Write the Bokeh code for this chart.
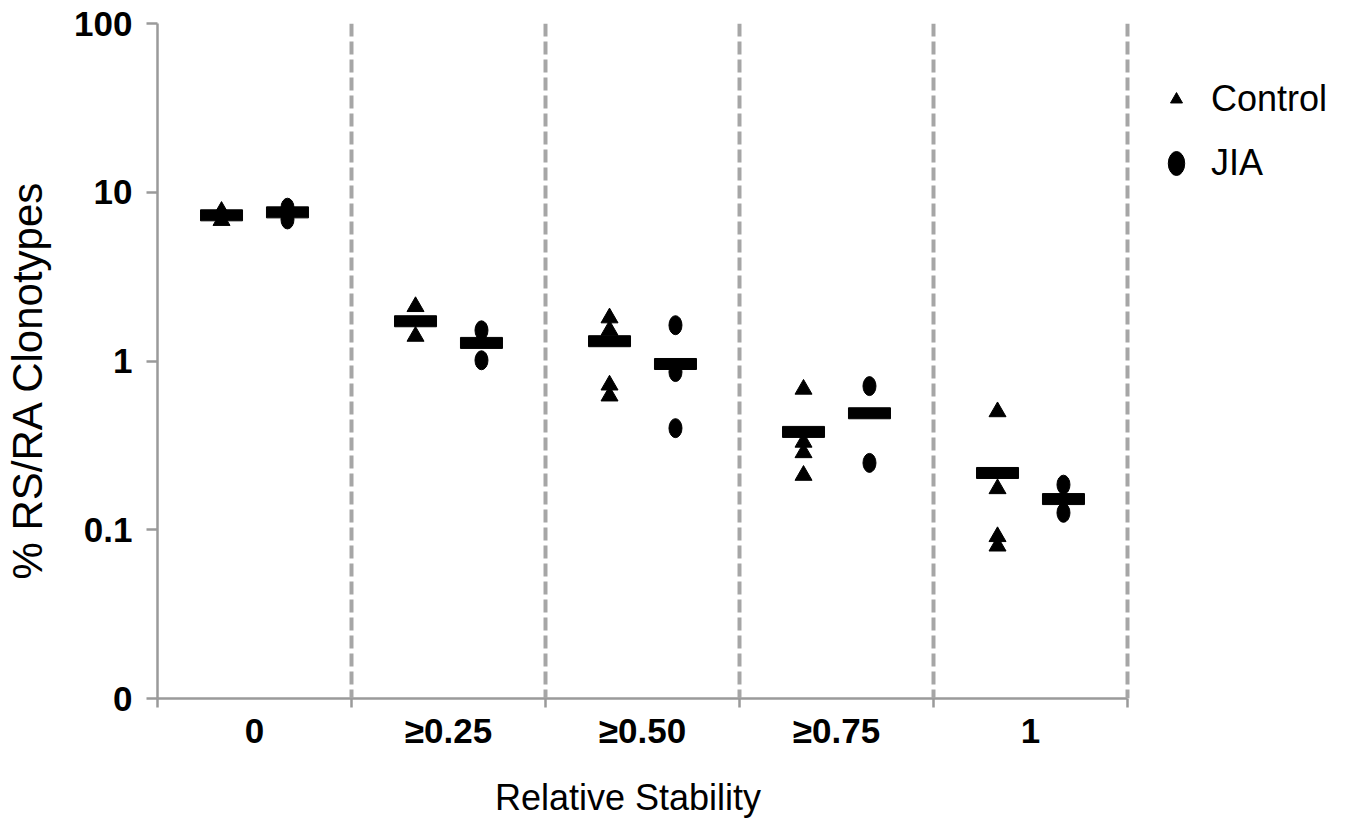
import numpy as np
from bokeh.plotting import figure
from bokeh.models import (Range1d, FixedTicker, Span, ColumnDataSource, Legend, LegendItem,
                          LinearAxis, LogAxis)
from bokeh.embed import file_html
from bokeh.resources import INLINE

categories = ["0", "≥0.25", "≥0.50", "≥0.75", "1"]

control_points = [
    [7.7, 6.8],
    [2.1, 1.4],
    [1.80, 1.52, 0.72, 0.62],
    [0.68, 0.33, 0.286, 0.21],
    [0.50, 0.175, 0.091, 0.080],
]
jia_points = [
    [8.1, 6.9],
    [1.52, 1.01],
    [1.63, 0.86, 0.40],
    [0.71, 0.249],
    [0.185, 0.126],
]
control_mean = [7.3, 1.72, 1.31, 0.38, 0.217]
jia_mean = [7.6, 1.28, 0.96, 0.49, 0.152]

y_ticks = [0.01, 0.1, 1, 10, 100]
y_tick_labels = ["0", "0.1", "1", "10", "100"]

x_title = "Relative Stability"
y_title = "% RS/RA Clonotypes"
# where the reference centres its axis titles (in axis coordinates)
x_title_at = 2.425
y_title_at = 0.772

OFF = 0.17
GREY = "#A6A6A6"
AXIS_GREY = "#9A9A9A"

def pts_source(points, off):
    xs, ys = [], []
    for i, vals in enumerate(points):
        for v in vals:
            xs.append(i + 0.5 + off)
            ys.append(v)
    return ColumnDataSource(dict(x=xs, y=ys))

ctrl_src = pts_source(control_points, -OFF)
jia_src = pts_source(jia_points, OFF)
ctrl_mean_src = ColumnDataSource(dict(x=[i + 0.5 - OFF for i in range(len(categories))], y=control_mean))
jia_mean_src = ColumnDataSource(dict(x=[i + 0.5 + OFF for i in range(len(categories))], y=jia_mean))

W, H = 1332, 820
LEFT, RIGHT, TOP, BOTTOM = 157, 0, 23, 122
n = len(categories)
frame_w = W - LEFT - RIGHT
unit_px = (1127 - 157) / n          # pixels per category in the reference
x_end = frame_w / unit_px           # extra room on the right for the legend

p = figure(width=W, height=H, y_axis_type="log",
           x_range=Range1d(0, x_end), y_range=Range1d(y_ticks[0], y_ticks[-1]),
           output_backend="svg", toolbar_location=None,
           min_border_left=LEFT, min_border_right=RIGHT, min_border_top=TOP, min_border_bottom=BOTTOM)
p.outline_line_color = None
p.xgrid.visible = False
p.ygrid.visible = False
p.background_fill_color = "white"
p.border_fill_color = "white"

# category separators
for i in range(1, n + 1):
    p.add_layout(Span(location=i, dimension="height", line_color=GREY,
                      line_width=4, line_dash="13 5"))

r_ctrl = p.scatter("x", "y", source=ctrl_src, marker="triangle", size=17,
                   fill_color="black", line_color="black")
r_jia = p.ellipse("x", "y", source=jia_src, width=13, height=19,
                  width_units="screen", height_units="screen",
                  fill_color="black", line_color="black")
p.rect("x", "y", source=ctrl_mean_src, width=42, height=11,
       width_units="screen", height_units="screen", fill_color="black", line_color="black")
p.rect("x", "y", source=jia_mean_src, width=42, height=11,
       width_units="screen", height_units="screen", fill_color="black", line_color="black")

# x axis
xa = p.xaxis[0]
xa.bounds = (0, n)
xa.ticker = FixedTicker(ticks=[i + 0.5 for i in range(n)], minor_ticks=list(range(n + 1)))
xa.major_label_overrides = {i + 0.5: c for i, c in enumerate(categories)}
xa.major_tick_out = 0
xa.major_tick_in = 0
xa.minor_tick_out = 9
xa.minor_tick_in = 0
xa.minor_tick_line_color = AXIS_GREY
xa.minor_tick_line_width = 2.5
xa.axis_line_color = AXIS_GREY
xa.axis_line_width = 2.5
xa.major_label_text_font = "Liberation Sans"
xa.major_label_text_font_style = "bold"
xa.major_label_text_font_size = "35px"
xa.major_label_text_color = "black"
xa.major_label_standoff = 3

# y axis
ya = p.yaxis[0]
ya.ticker = FixedTicker(ticks=y_ticks, minor_ticks=[])
ya.major_label_overrides = {t: l for t, l in zip(y_ticks, y_tick_labels)}
ya.major_tick_out = 11
ya.major_tick_in = 0
ya.major_tick_line_color = AXIS_GREY
ya.major_tick_line_width = 2.5
ya.axis_line_color = AXIS_GREY
ya.axis_line_width = 2.5
ya.major_label_text_font = "Liberation Sans"
ya.major_label_text_font_style = "bold"
ya.major_label_text_font_size = "35px"
ya.major_label_text_color = "black"
ya.major_label_standoff = 14

# axis titles, placed where the reference has them
def title_axis(axis, text, at, size, standoff):
    axis.ticker = FixedTicker(ticks=[at], minor_ticks=[])
    axis.major_label_overrides = {at: text}
    axis.axis_line_color = None
    axis.major_tick_line_color = None
    axis.minor_tick_line_color = None
    axis.major_tick_out = 0
    axis.major_tick_in = 0
    axis.major_label_text_font = "Liberation Sans"
    axis.major_label_text_font_style = "normal"
    axis.major_label_text_font_size = size
    axis.major_label_text_color = "black"
    axis.major_label_standoff = standoff
    return axis

xt_axis = title_axis(LinearAxis(), x_title, x_title_at, "36px", 24)
p.add_layout(xt_axis, "below")
yt_axis = title_axis(LogAxis(), y_title, y_title_at, "42px", 20)
yt_axis.major_label_orientation = "vertical"
p.add_layout(yt_axis, "left")

legend = Legend(items=[LegendItem(label="Control", renderers=[r_ctrl]),
                       LegendItem(label="JIA", renderers=[r_jia])],
                location=(996, 506))
legend.label_text_font = "Liberation Sans"
legend.label_text_font_size = "36px"
legend.label_text_color = "black"
legend.glyph_width = 30
legend.glyph_height = 30
legend.label_standoff = 20
legend.spacing = 22
legend.margin = 0
legend.padding = 8
legend.border_line_alpha = 0
legend.background_fill_alpha = 0
p.add_layout(legend, "center")

open("out.html", "w").write(file_html(p, INLINE))
